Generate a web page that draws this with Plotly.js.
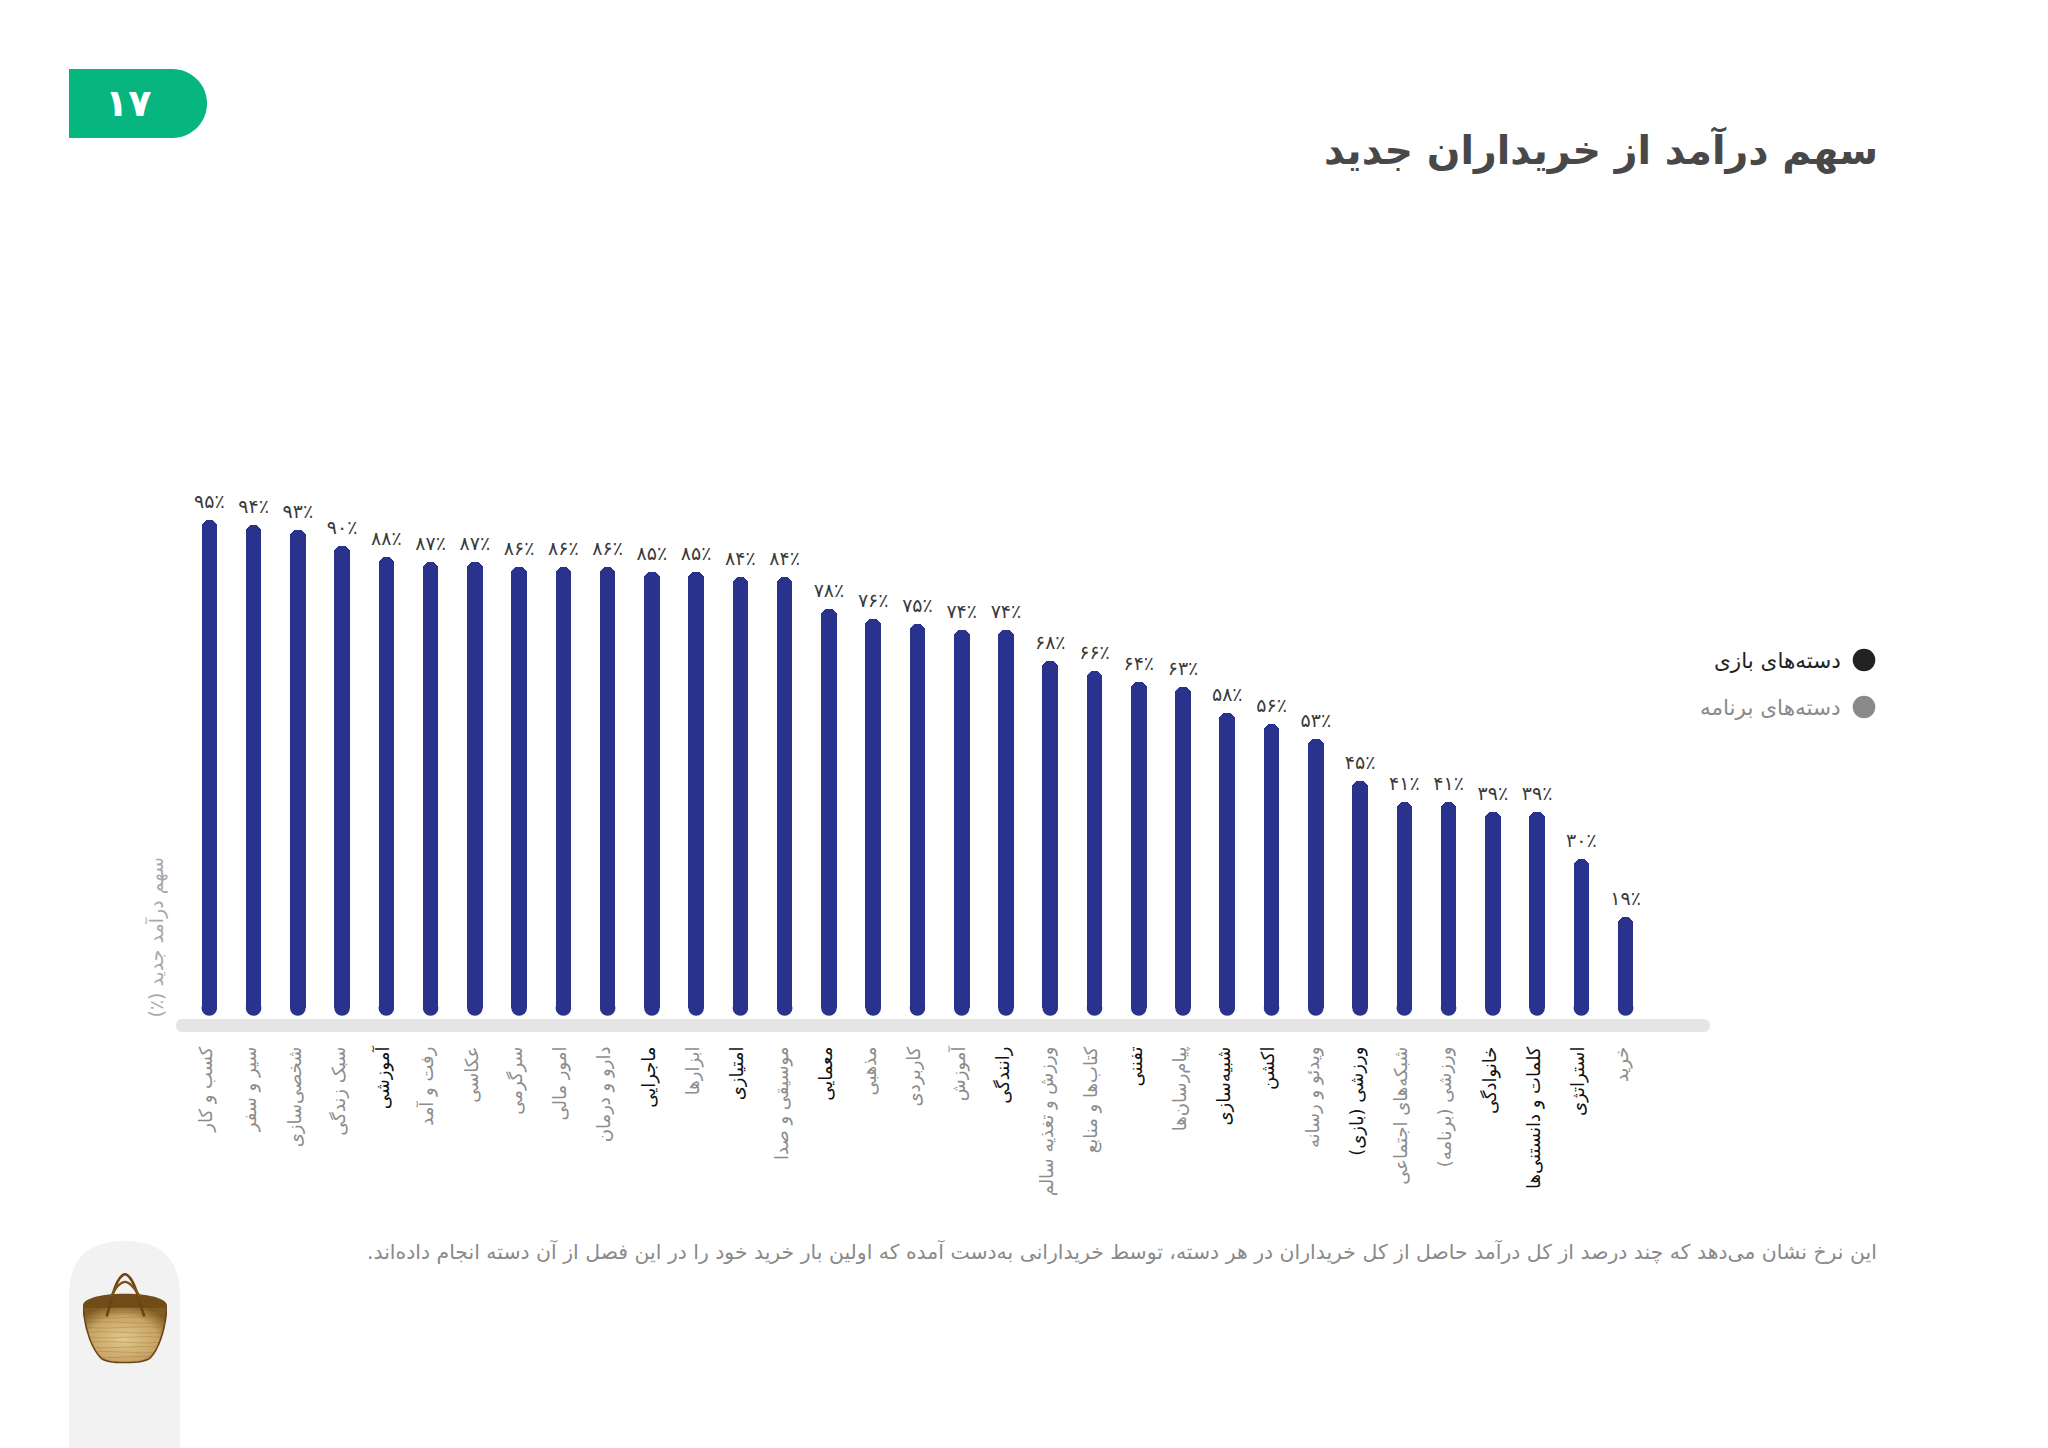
<!DOCTYPE html>
<html lang="fa"><head><meta charset="utf-8">
<script src="https://cdn.plot.ly/plotly-3.0.1.min.js"></script>
<style>html,body{margin:0;padding:0;background:#fff}#c{width:2048px;height:1448px}</style></head>
<body><div id="c"></div>
<script>
const categories = ["کسب و کار","سیر و سفر","شخصی‌سازی","سبک زندگی","آموزشی","رفت و آمد","عکاسی","سرگرمی","امور مالی","دارو و درمان","ماجرایی","ابزارها","امتیازی","موسیقی و صدا","معمایی","مذهبی","کاربردی","آموزش","رانندگی","ورزش و تغذیه سالم","کتاب‌ها و منابع","تفننی","پیام‌رسان‌ها","شبیه‌سازی","اکشن","ویدئو و رسانه","ورزشی (بازی)","شبکه‌های اجتماعی","ورزشی (برنامه)","خانوادگی","کلمات و دانستنی‌ها","استراتژی","خرید"];
const revenueShare = [95,94,93,90,88,87,87,86,86,86,85,85,84,84,78,76,75,74,74,68,66,64,63,58,56,53,45,41,41,39,39,30,19];
const gameCategories = ["آموزشی","ماجرایی","امتیازی","معمایی","رانندگی","تفننی","شبیه‌سازی","اکشن","ورزشی (بازی)","خانوادگی","کلمات و دانستنی‌ها","استراتژی"];
const titleText = "سهم درآمد از خریداران جدید";
const badgeText = "۱۷";
const yTitleText = "سهم درآمد جدید (٪)";
const noteText = "این نرخ نشان می‌دهد که چند درصد از کل درآمد حاصل از کل خریداران در هر دسته، توسط خریدارانی به‌دست آمده که اولین بار خرید خود را در این فصل از آن دسته انجام داده‌اند.";
const legendGames = "دسته‌های بازی";
const legendApps = "دسته‌های برنامه";

const FONT = '"DejaVu Sans", "Noto Sans", sans-serif';
const RLM = "\u200F";
const rtl = s => RLM + s + RLM;
const fa = s => String(s).replace(/\d/g, d => "۰۱۲۳۴۵۶۷۸۹"[d]);
const L = 176, R = 1710, T = 300, B = 1008, W = 2048, H = 1448;
const px = x => (x - L) / (R - L), py = y => (B - y) / (B - T);
const X0 = 209.3, DX = 44.26, Y0 = 1016, DY = 5.221, BAR = 15.6;
const idx = categories.map((_, i) => i);
const capVal = (Y0 - B) / DY;

const roundRect = (x0, y0, x1, y1, rl, rr, bottomSquare) => {
  const p = (x, y) => px(x) + "," + py(y);
  return "M" + p(x0 + rl, y0) + " L" + p(x1 - rr, y0) + " Q" + p(x1, y0) + " " + p(x1, y0 + rr) +
    (bottomSquare ? " L" + p(x1, y1) + " L" + p(x0, y1) + " L" + p(x0, y0 + rl)
      : " L" + p(x1, y1 - rr) + " Q" + p(x1, y1) + " " + p(x1 - rr, y1) + " L" + p(x0 + rl, y1) + " Q" + p(x0, y1) + " " + p(x0, y1 - rl) + " L" + p(x0, y0 + rl)) +
    " Q" + p(x0, y0) + " " + p(x0 + rl, y0) + " Z";
};
const badgePath = () => {
  const p = (x, y) => px(x) + "," + py(y);
  const k = 19;
  return "M" + p(69, 69) + " L" + p(172.5, 69) + " C" + p(172.5 + k, 69) + " " + p(207, 103.5 - k) + " " + p(207, 103.5) +
    " C" + p(207, 103.5 + k) + " " + p(172.5 + k, 138) + " " + p(172.5, 138) + " L" + p(69, 138) + " Z";
};
const shape = (path, color) => ({type: "path", xref: "paper", yref: "paper", path, fillcolor: color, line: {width: 0}, layer: "below"});
const dot = (cx, cy, r, color) => ({type: "circle", xref: "paper", yref: "paper", x0: px(cx - r), x1: px(cx + r), y0: py(cy + r), y1: py(cy - r), fillcolor: color, line: {width: 0}, layer: "below"});
const note = (text, x, y, size, color, opts) => Object.assign({xref: "paper", yref: "paper", x: px(x), y: py(y), text, showarrow: false, font: {family: FONT, size, color}, xanchor: "right", yanchor: "middle"}, opts || {});

const weave = [40,45,50,55,60,65,70,75,80,85].map((y, i) => `<path d="M3 ${y} Q22 ${y + (i % 2 ? 1.5 : -1.5)} 42 ${y} T81 ${y}" fill="none" stroke="#94703a" stroke-opacity=".35" stroke-width="1"/>`).join("");
const basket = `<svg xmlns="http://www.w3.org/2000/svg" viewBox="0 0 84 93">
<defs><radialGradient id="g" cx="48%" cy="58%" r="62%"><stop offset="0" stop-color="#e0c88e"/><stop offset=".65" stop-color="#c9a566"/><stop offset="1" stop-color="#7f5a22"/></radialGradient>
<clipPath id="b"><path d="M0 34 C2 60 10 78 18 86 C24 92 60 92 67 86 C75 78 82 60 84 34Z"/></clipPath></defs>
<path d="M0 34 C2 60 10 78 18 86 C24 92 60 92 67 86 C75 78 82 60 84 34Z" fill="url(#g)" stroke="#6b4514" stroke-width="1.6"/>
<g clip-path="url(#b)">${weave}</g>
<path d="M0 32 C1 27 14 21 42 21 C70 21 83 27 84 32 C84 34 83 36 80 35 C60 33 24 33 4 35 C1 36 0 34 0 32Z" fill="#6f4c18"/>
<path d="M24 43 C28 30 32 4 42 1 C52 4 56 30 61 43" fill="none" stroke="#6d4414" stroke-width="2.6" stroke-linecap="round"/>
<path d="M28 24 C31 18 36 9 42 9 C48 9 53 18 57 24" fill="none" stroke="#7d5119" stroke-width="2.4"/>
</svg>`;

const data = [
  {type: "scatter", mode: "markers", x: idx, y: idx.map(() => capVal), cliponaxis: false, hoverinfo: "skip", showlegend: false,
   marker: {symbol: "circle", size: BAR, color: "#29338D", line: {width: 0}}},
  {type: "bar", x: idx, y: revenueShare, width: BAR / DX, showlegend: false,
   marker: {color: "#29338D", cornerradius: BAR / 2, line: {width: 0}}, hoverinfo: "x+y"},
  {type: "scatter", mode: "markers+text", x: idx, y: revenueShare, cliponaxis: false, showlegend: false, hoverinfo: "skip",
   marker: {size: 10, opacity: 0, color: "#29338D"},
   text: revenueShare.map(v => fa(v) + "٪"), textposition: "top center",
   textfont: {family: FONT, size: 19, color: "#3a3a3a"}}
];

const layout = {
  width: W, height: H, autosize: false, showlegend: false,
  paper_bgcolor: "#fff", plot_bgcolor: "rgba(0,0,0,0)",
  margin: {l: L, r: W - R, t: T, b: H - B, pad: 0},
  bargap: 0,
  xaxis: {range: [(L - X0) / DX, (R - X0) / DX], tickmode: "array", tickvals: idx,
    ticktext: categories.map(c => gameCategories.includes(c) ? `<span style="color:#111111">${rtl(c)}</span>` : `<span style="color:#8c8c8c">${rtl(c)}</span>`),
    tickangle: -90, ticks: "", showgrid: false, zeroline: false, showline: false, ticklabelstandoff: 34, ticklabelshift: -3,
    tickfont: {family: FONT, size: 18, color: "#8c8c8c"}},
  yaxis: {range: [capVal, (Y0 - T) / DY], visible: false, showgrid: false, zeroline: false},
  shapes: [
    shape(roundRect(176, 1019, 1710, 1032, 6.5, 6.5), "#e5e5e6"),
    shape(badgePath(), "#07B57E"),
    shape(roundRect(69, 1241, 180, 1448, 55, 55, true), "#f2f2f3"),
    dot(1864, 660, 11.3, "#222222"),
    dot(1864, 707, 11.3, "#8a8a8a")
  ],
  images: [{source: "data:image/svg+xml;charset=utf-8," + encodeURIComponent(basket), xref: "paper", yref: "paper",
    x: px(83), y: py(1273), sizex: px(167) - px(83), sizey: py(1273) - py(1365), xanchor: "left", yanchor: "top", sizing: "stretch", layer: "above"}],
  annotations: [
    note("<b>" + rtl(titleText) + "</b>", 1880, 150, 39.5, "#484848"),
    note("<b>" + badgeText + "</b>", 128, 103, 38, "#ffffff", {xanchor: "center"}),
    note(rtl(noteText), 1879, 1251, 20.4, "#8a8a8a"),
    note(rtl(legendGames), 1843, 660, 21.5, "#222222"),
    note(rtl(legendApps), 1843, 707, 21.5, "#8a8a8a"),
    note(rtl(yTitleText), 155, 1020, 19, "#a8a8a8", {xanchor: "center", yanchor: "bottom", textangle: -90})
  ]
};
Plotly.newPlot("c", data, layout, {displayModeBar: false, responsive: false});
</script></body></html>
